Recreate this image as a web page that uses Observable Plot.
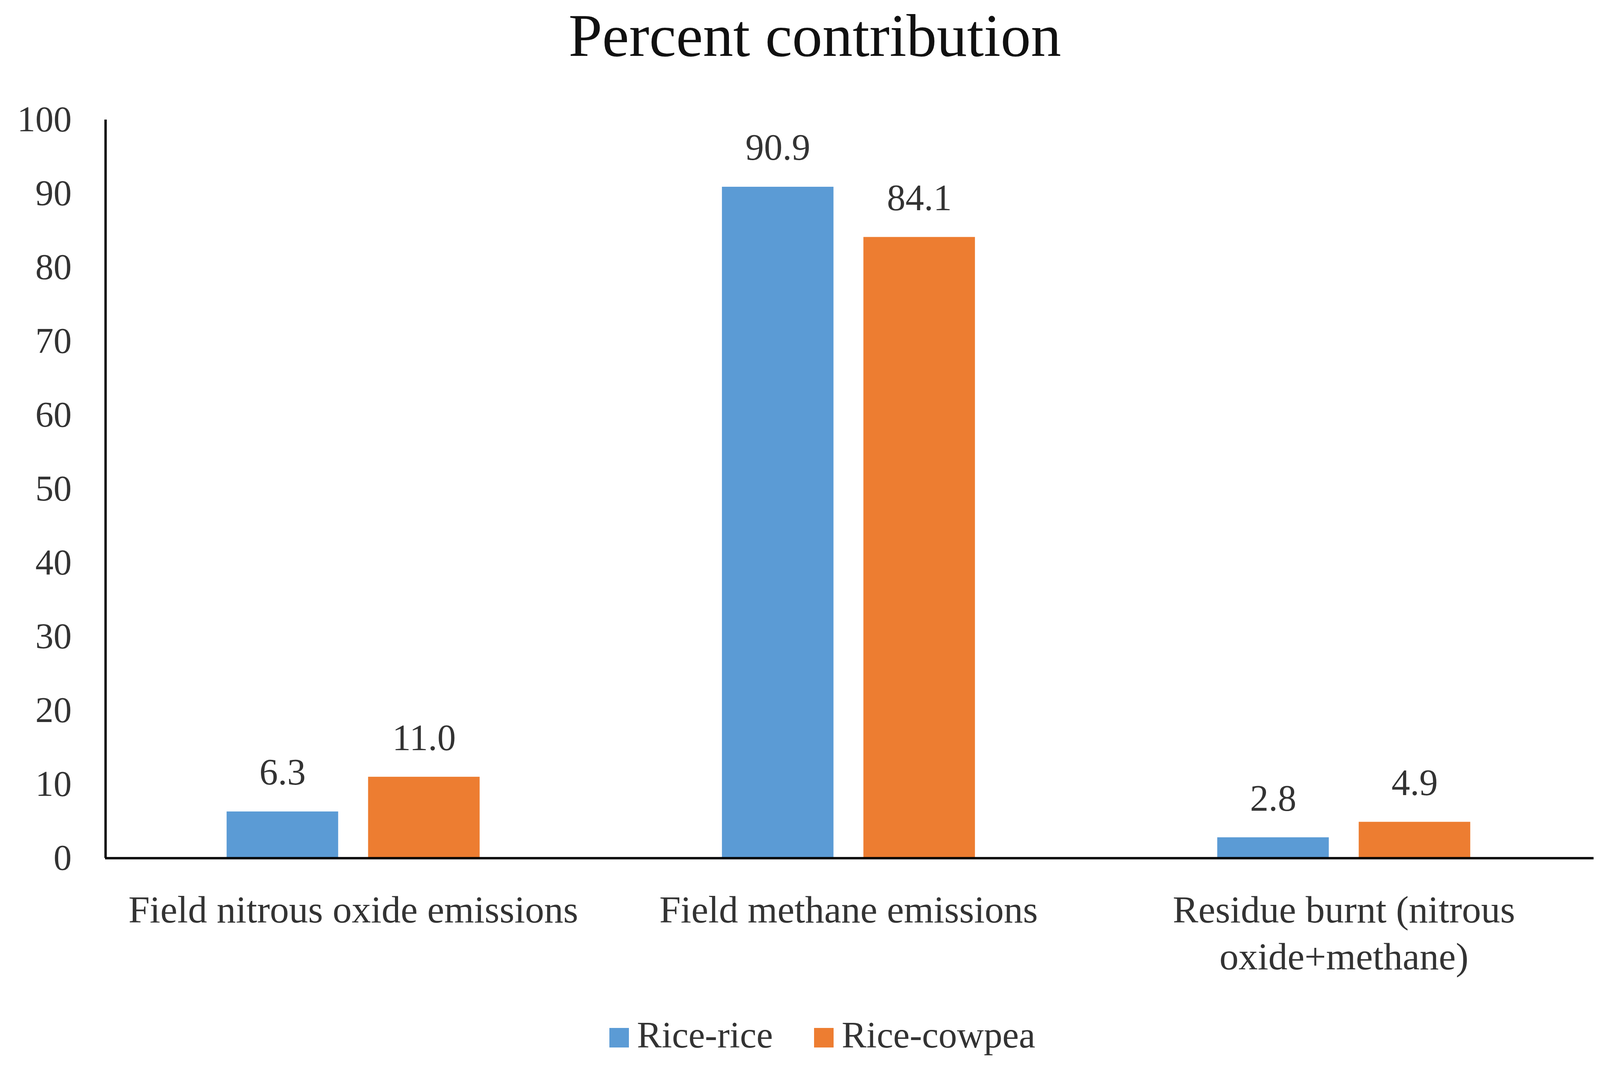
<!DOCTYPE html>
<html>
<head>
<meta charset="utf-8">
<script src="https://cdn.jsdelivr.net/npm/d3@7"></script>
<script src="https://cdn.jsdelivr.net/npm/@observablehq/plot@0.6"></script>
<style>
  html, body { margin: 0; padding: 0; background: #fff; }
  body { width: 4098px; height: 2754px; overflow: hidden; font-family: "Liberation Serif", serif; }
  #title { box-sizing: border-box; width: 4098px; height: 220px; line-height: 182px; font-size: 155px;
           text-align: center; padding-left: 74px; color: #111; white-space: nowrap; }
  #chart { line-height: 0; }
  #legend { box-sizing: border-box; width: 4098px; padding-left: 112px; padding-top: 59px;
            line-height: 100px; font-size: 95px; text-align: center; color: #333; white-space: nowrap; }
  .sw { display: inline-block; width: 50px; height: 50px; margin-right: 21px; vertical-align: baseline; }
  .item + .item { margin-left: 105px; }
</style>
</head>
<body>
<div id="title">Percent contribution</div>
<div id="chart"></div>
<div id="legend"></div>
<script>
const categories = ["Field nitrous oxide emissions", "Field methane emissions", "Residue burnt (nitrous oxide+methane)"];
const categoryLabels = ["Field nitrous oxide emissions", "Field methane emissions", "Residue burnt (nitrous\noxide+methane)"];
const seriesNames = ["Rice-rice", "Rice-cowpea"];
const riceRice = [6.3, 90.9, 2.8];
const riceCowpea = [11.0, 84.1, 4.9];
const yTicks = [0, 10, 20, 30, 40, 50, 60, 70, 80, 90, 100];
const colors = ["#5B9BD5", "#ED7D31"];

const rowsRR = categories.map((c, i) => ({category: c, series: seriesNames[0], value: riceRice[i]}));
const rowsRC = categories.map((c, i) => ({category: c, series: seriesNames[1], value: riceCowpea[i]}));

const W = 4098, H = 2320;
const mL = 269, mR = 23.5, mT = 86, mB = 344;
const band = (W - mL - mR) / categories.length;
const barW = band * 0.2255;       // bar width relative to band
const gap = band * 0.06;          // gap between the two bars
const outer = (band - 2 * barW - gap) / 2;
const off = (barW + gap) / 2;     // label offset from band centre
const labelFor = new Map(categories.map((c, i) => [c, categoryLabels[i]]));

const chart = Plot.plot({
  width: W, height: H,
  marginLeft: mL, marginRight: mR, marginTop: mT, marginBottom: mB,
  style: {fontFamily: "Liberation Serif, serif", background: "white", color: "#333"},
  x: {domain: categories, padding: 0, axis: null},
  y: {domain: [0, 100], axis: null},
  marks: [
    Plot.barY(rowsRR, {x: "category", y: "value", fill: colors[0], insetLeft: outer, insetRight: outer + barW + gap}),
    Plot.barY(rowsRC, {x: "category", y: "value", fill: colors[1], insetLeft: outer + barW + gap, insetRight: outer}),
    Plot.text(rowsRR, {x: "category", y: "value", text: d => d.value.toFixed(1), dx: -off, dy: -69, lineAnchor: "bottom", fontSize: 95, fill: "#333"}),
    Plot.text(rowsRC, {x: "category", y: "value", text: d => d.value.toFixed(1), dx: off, dy: -69, lineAnchor: "bottom", fontSize: 95, fill: "#333"}),
    Plot.ruleY([0], {stroke: "#000", strokeWidth: 6, insetRight: -5}),
    Plot.ruleX([categories[0]], {y1: 0, y2: 100, dx: -band / 2, stroke: "#000", strokeWidth: 6}),
    Plot.axisY(yTicks, {label: null, tickSize: 0, tickPadding: 86, fontSize: 93, fill: "#333"}),
    Plot.axisX({label: null, tickSize: 0, tickPadding: 80, fontSize: 98, lineHeight: 1.22, fill: "#333", tickFormat: d => labelFor.get(d)})
  ]
});
document.getElementById("chart").appendChild(chart);

const legend = document.getElementById("legend");
seriesNames.forEach((s, i) => {
  const item = document.createElement("span");
  item.className = "item";
  const sw = document.createElement("span");
  sw.className = "sw";
  sw.style.background = colors[i];
  item.appendChild(sw);
  item.appendChild(document.createTextNode(s));
  legend.appendChild(item);
});
</script>
</body>
</html>
